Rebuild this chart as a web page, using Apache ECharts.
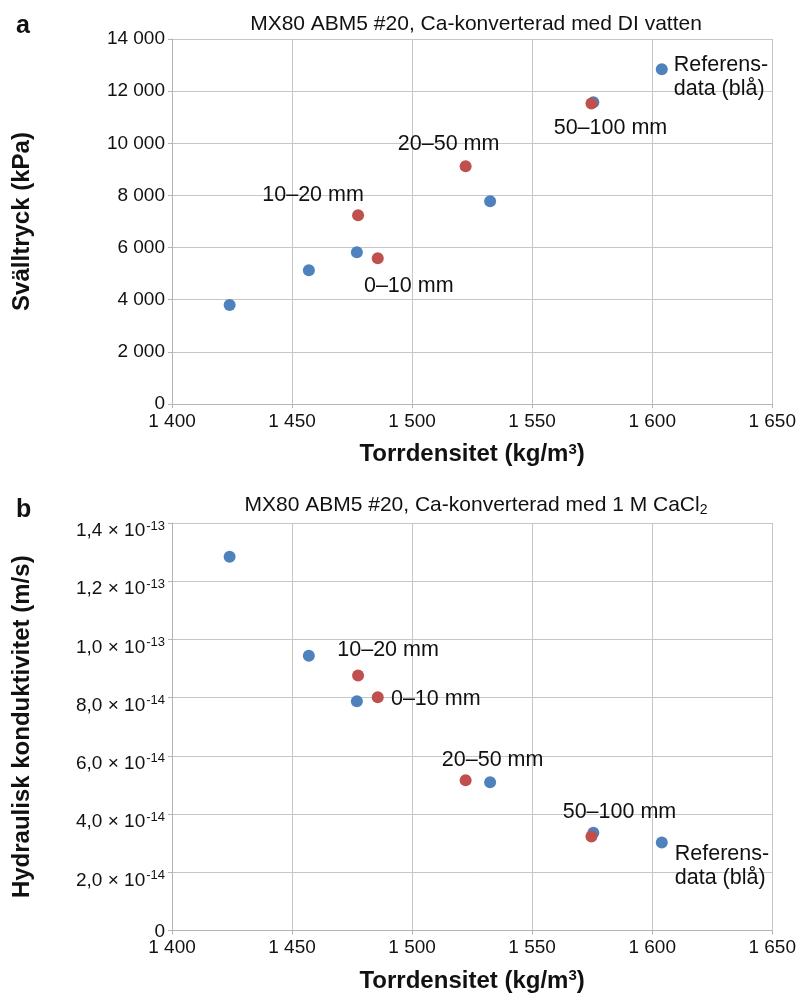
<!DOCTYPE html>
<html>
<head>
<meta charset="utf-8">
<script src="https://cdn.jsdelivr.net/npm/echarts@6/dist/echarts.min.js"></script>
<style>
  html, body { margin: 0; padding: 0; background: #fff; }
  #chart { width: 799px; height: 994px; }
</style>
</head>
<body>
<div id="chart"></div>
<script>
// referensdata (blå)
var blueDensity = [1424, 1457, 1477, 1532.5, 1575.5, 1604];
var blueSwell = [3800, 5130, 5820, 7780, 11570, 12840];
var blueK = [1.284e-13, 9.44e-14, 7.88e-14, 5.09e-14, 3.36e-14, 3.02e-14];

// prover (röda)
var redLabels = ['10–20 mm', '0–10 mm', '20–50 mm', '50–100 mm'];
var redDensity = [1477.5, 1485.7, 1522.3, 1574.7];
var redSwell = [7240, 5590, 9120, 11530];
var redK = [8.76e-14, 8.01e-14, 5.16e-14, 3.23e-14];

var refLabel = 'Referens-\ndata (blå)';

var font = '"Liberation Sans", Arial, sans-serif';
var blue = '#4f81bd';
var red = '#c0504d';

// etikettplacering (px) relativt punkten
var offsetsA = [[-45, -20], [31, 28], [-17, -22], [19, 25]];
var offsetsB = [[30, -25], [58, 2], [27, -20], [28, -24]];

function pairs(xs, ys) {
    var out = [];
    for (var i = 0; i < xs.length; i++) out.push([xs[i], ys[i]]);
    return out;
}

function redData(ys, offs) {
    var d = [];
    for (var i = 0; i < redDensity.length; i++) {
        d.push({
            value: [redDensity[i], ys[i]],
            label: { show: true, formatter: redLabels[i], position: 'inside', offset: offs[i] }
        });
    }
    return d;
}

function blueData(ys, off) {
    var d = pairs(blueDensity, ys);
    var last = d.length - 1;
    d[last] = {
        value: d[last],
        label: { show: true, formatter: refLabel, position: 'inside', align: 'left', offset: off, lineHeight: 24 }
    };
    return d;
}

function spaced(v) {
    return String(Math.round(v)).replace(/\B(?=(\d{3})+(?!\d))/g, ' ');
}

function sci(v) {
    if (v === 0) return '{z|0}';
    var e = Math.floor(Math.log10(v) + 1e-9);
    var m = v / Math.pow(10, e);
    return '{m|' + m.toFixed(1).replace('.', ',') + ' × 10}{s|' + e + '}';
}

var labelStyle = { fontFamily: font, fontSize: 21.5, color: '#111' };
var tickStyle = { fontFamily: font, fontSize: 19, color: '#111' };
var gridLine = { lineStyle: { color: '#c6c6c6', width: 1 } };
var axisLine = { lineStyle: { color: '#b4b4b4', width: 1 } };
var axisTick = { show: true, length: 4, lineStyle: { color: '#b4b4b4' } };

var xName = '{b|Torrdensitet (kg/m}{sup|3}{b|)}';
var xNameStyle = {
    rich: {
        b: { fontFamily: font, fontSize: 24, fontWeight: 'bold', color: '#111' },
        sup: { fontFamily: font, fontSize: 15, fontWeight: 'bold', color: '#111', verticalAlign: 'top', padding: [0, 0, 10, 0] }
    }
};
var yNameStyle = { fontFamily: font, fontSize: 24, fontWeight: 'bold', color: '#111' };

function xAxis(idx) {
    return {
        type: 'value', gridIndex: idx, min: 1400, max: 1650, interval: 50,
        name: xName, nameLocation: 'middle', nameGap: 38, nameTextStyle: xNameStyle,
        axisLine: axisLine, axisTick: axisTick, splitLine: gridLine,
        axisLabel: Object.assign({ formatter: spaced, margin: 8 }, tickStyle)
    };
}

var chart = echarts.init(document.getElementById('chart'));
chart.setOption({
    backgroundColor: '#fff',
    animation: false,
    title: [
        { text: 'a', left: 11, top: 9, textStyle: { fontFamily: font, fontSize: 25, fontWeight: 'bold', color: '#111' } },
        { text: 'MX80 ABM5 #20, Ca-konverterad med DI vatten', left: 471, top: 9, textAlign: 'center',
          textStyle: { fontFamily: font, fontSize: 21, fontWeight: 'normal', color: '#111' } },
        { text: 'b', left: 11, top: 493, textStyle: { fontFamily: font, fontSize: 25, fontWeight: 'bold', color: '#111' } },
        { text: '{t|MX80 ABM5 #20, Ca-konverterad med 1 M CaCl}{sub|2}', left: 471, top: 489, textAlign: 'center',
          textStyle: { rich: {
              t: { fontFamily: font, fontSize: 21, fontWeight: 'normal', color: '#111' },
              sub: { fontFamily: font, fontSize: 14, fontWeight: 'normal', color: '#111', verticalAlign: 'bottom', padding: [9, 0, 0, 0] }
          } } }
    ],
    grid: [
        { left: 172, right: 26, top: 39, height: 365 },
        { left: 172, right: 26, top: 523, height: 412 }
    ],
    xAxis: [xAxis(0), xAxis(1)],
    yAxis: [
        {
            type: 'value', gridIndex: 0, min: 0, max: 14000, interval: 2000,
            name: 'Svälltryck (kPa)', nameLocation: 'middle', nameGap: 138, nameTextStyle: yNameStyle,
            axisLine: { show: true, lineStyle: axisLine.lineStyle }, axisTick: axisTick, splitLine: gridLine,
            axisLabel: Object.assign({ formatter: spaced, margin: 7 }, tickStyle)
        },
        {
            type: 'value', gridIndex: 1, min: 0, max: 1.4e-13, interval: 2e-14,
            name: 'Hydraulisk konduktivitet (m/s)', nameLocation: 'middle', nameGap: 138, nameTextStyle: yNameStyle,
            axisLine: { show: true, lineStyle: axisLine.lineStyle }, axisTick: axisTick, splitLine: gridLine,
            axisLabel: {
                formatter: sci, margin: 7, padding: [12, 0, 0, 0],
                rich: {
                    m: { fontFamily: font, fontSize: 19, color: '#111', lineHeight: 19, padding: [4, 0, 0, 0] },
                    s: { fontFamily: font, fontSize: 13, color: '#111', lineHeight: 13, verticalAlign: 'top', padding: [0, 0, 0, 1] },
                    z: { fontFamily: font, fontSize: 19, color: '#111', lineHeight: 13, padding: [0, 0, 10, 0] }
                }
            }
        }
    ],
    series: [
        { type: 'scatter', xAxisIndex: 0, yAxisIndex: 0, symbolSize: 12, itemStyle: { color: blue, opacity: 1 },
          label: labelStyle, data: blueData(blueSwell, [12, 8]) },
        { type: 'scatter', xAxisIndex: 0, yAxisIndex: 0, symbolSize: 12, itemStyle: { color: red, opacity: 1 },
          label: labelStyle, data: redData(redSwell, offsetsA) },
        { type: 'scatter', xAxisIndex: 1, yAxisIndex: 1, symbolSize: 12, itemStyle: { color: blue, opacity: 1 },
          label: labelStyle, data: blueData(blueK, [13, 23]) },
        { type: 'scatter', xAxisIndex: 1, yAxisIndex: 1, symbolSize: 12, itemStyle: { color: red, opacity: 1 },
          label: labelStyle, data: redData(redK, offsetsB) }
    ]
});
</script>
</body>
</html>
